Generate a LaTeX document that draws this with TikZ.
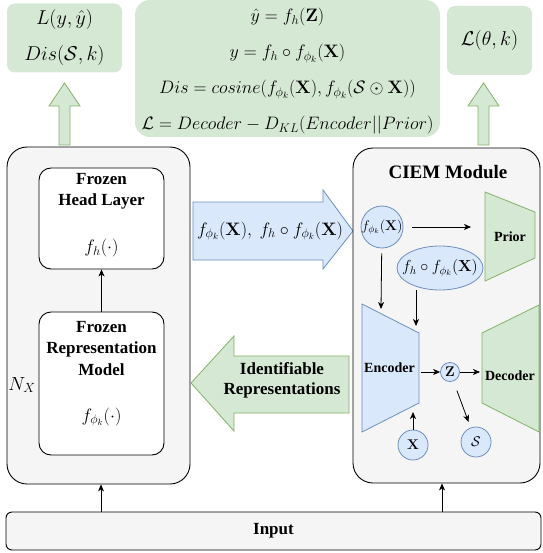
\RequirePackage{fix-cm}
\documentclass[tikz,border=0pt]{standalone}
\usepackage[no-math]{fontspec}
\setmainfont{Liberation Serif}
\usepackage{amsmath}
\usetikzlibrary{arrows.meta,positioning,shapes.geometric}
\definecolor{gfill}{HTML}{D5E8D4}
\definecolor{gline}{HTML}{82B366}
\definecolor{bfill}{HTML}{DAE8FC}
\definecolor{bline}{HTML}{6C8EBF}
\definecolor{pfill}{HTML}{F5F5F5}

\begin{document}
\begin{tikzpicture}[
        x=1pt, y=-1pt,
        >={Stealth[length=7pt, width=6pt, inset=2pt]},
        panel/.style={draw, line width=0.9pt, fill=pfill, rounded corners=20pt, inner sep=0pt},
        inbox/.style={draw, line width=0.9pt, fill=white, rounded corners=12pt, inner sep=0pt},
        loss/.style={fill=gfill, rounded corners=8pt, align=center, inner sep=0pt, font=\fontsize{20}{24}\selectfont},
        garrow/.style={draw=gline, fill=gfill, line width=0.8pt},
        barrow/.style={draw=bline, fill=bfill, line width=0.8pt},
        bshape/.style={draw=bline, fill=bfill, line width=0.8pt, inner sep=0pt},
        lbl/.style={font=\bfseries\fontsize{17}{21.5}\selectfont, align=center, inner sep=0pt},
        mlbl/.style={font=\fontsize{18}{22}\selectfont, align=center, inner sep=0pt},
        slbl/.style={font=\bfseries\fontsize{14}{17}\selectfont, inner sep=0pt},
        smath/.style={font=\fontsize{14}{17}\selectfont, inner sep=0pt},
        link/.style={->, line width=0.8pt}
    ]
    \useasboundingbox (0,0) rectangle (542,553);

    % losses on top
    \node[loss, minimum width=115, minimum height=69] (lossl) at (64.5,38)
        {$L(y,\hat{y})$\\[12pt]$Dis(\mathcal{S},k)$};
    \node[loss, rounded corners=15pt, minimum width=305, minimum height=137] (eqs) at (287.5,68.5) {};
    \node[mlbl] (eqtxt) at (287.5,71.5)
        {$\hat{y}=f_h(\mathbf{Z})$\\[14pt]
         $y=f_h\circ f_{\phi_k}(\mathbf{X})$\\[14pt]
         $Dis=cosine(f_{\phi_k}(\mathbf{X}),f_{\phi_k}(\mathcal{S}\odot\mathbf{X}))$\\[14pt]
         $\mathcal{L}=Decoder-D_{KL}(Encoder||Prior)$};
    \node[loss, minimum width=85, minimum height=69] (lossr) at (489.5,40.5) {$\mathcal{L}(\theta,k)$};

    % up arrows
    \draw[garrow] (59,145) -- (59,106) -- (49,106) -- (64.5,83) -- (80,106) -- (70,106) -- (70,145) -- cycle;
    \draw[garrow] (478,145) -- (478,106) -- (468,106) -- (483.5,83) -- (499,106) -- (489,106) -- (489,145) -- cycle;

    % frozen side
    \node[panel, minimum width=183, minimum height=337] (frozen) at (98.5,315.5) {};
    \node[inbox, minimum width=125, minimum height=101] (head) at (101.5,218.5) {};
    \node[lbl, below=5.5pt of head.north] (headtxt) {Frozen\\Head Layer};
    \node[mlbl, above=12pt of head.south] (fh) {$f_h(\cdot)$};
    \node[inbox, minimum width=125, minimum height=143] (rep) at (101.5,383.5) {};
    \node[lbl, below=9.5pt of rep.north] (reptxt) {Frozen\\Representation\\Model};
    \node[mlbl, above=29pt of rep.south] (fphi) {$f_{\phi_k}(\cdot)$};
    \node[font=\fontsize{19}{22}\selectfont, inner sep=0pt] (nx) at (22,385) {$N_X$};
    \draw[link] (rep) -- (head);

    % exchange arrows
    \draw[barrow] (193,202) -- (323,202) -- (323,190) -- (353,231) -- (323,269) -- (323,260) -- (193,260) -- cycle;
    \node[mlbl] (feat) at (270,231) {$f_{\phi_k}(\mathbf{X}),\ f_h\circ f_{\phi_k}(\mathbf{X})$};
    \draw[garrow] (191,383) -- (234,336) -- (234,356) -- (349,356) -- (349,413) -- (234,413) -- (234,431) -- cycle;
    \node[lbl, font=\bfseries\fontsize{17}{20}\selectfont] (ident) at (282,380) {Identifiable\\Representations};

    % CIEM module
    \node[panel, minimum width=187, minimum height=335] (ciem) at (446.5,315.5) {};
    \node[lbl, font=\bfseries\fontsize{19}{22}\selectfont] (ciemtxt) at (448,172.5) {CIEM Module};

    \node[bshape, circle, minimum size=42] (fx) at (382,227) {};
    \node[smath] at (fx) {$f_{\phi_k}(\mathbf{X})$};
    \node[bshape, ellipse, minimum width=86, minimum height=44] (fhx) at (440,268) {};
    \node[mlbl, font=\fontsize{16}{19}\selectfont] at (fhx) {$f_h\circ f_{\phi_k}(\mathbf{X})$};

    \draw[garrow] (485,192) -- (535,212) -- (535,258) -- (485,281) -- cycle;
    \node[slbl] (prior) at (510,237) {Prior};
    \draw[barrow] (362,304) -- (419,333) -- (419,403) -- (362,432) -- cycle;
    \node[slbl] (enc) at (389.5,368) {Encoder};
    \draw[garrow] (482,333) -- (539,305) -- (539,432) -- (482,403) -- cycle;
    \node[slbl] (dec) at (510,375.5) {Decoder};

    \node[bshape, circle, minimum size=19] (z) at (450,372) {};
    \node[smath] at (z) {$\mathbf{Z}$};
    \node[bshape, circle, minimum size=30] (xin) at (413,445) {};
    \node[smath] at (xin) {$\mathbf{X}$};
    \node[bshape, circle, minimum size=30] (s) at (476,442) {};
    \node[smath] at (s) {$\mathcal{S}$};

    \coordinate (priorin) at (471,227);
    \coordinate (enctopa) at (381,309);
    \coordinate (enctopb) at (416,326);
    \coordinate (encout) at (421,372);
    \coordinate (decin) at (480,372);
    \coordinate (encbot) at (413,412);

    \draw[link, shorten <=9pt] (fx) -- (priorin);
    \draw[link, shorten <=5pt] (fx) -- (enctopa);
    \draw[link] (fhx.south -| enctopb) -- (enctopb);
    \draw[link] (encout) -- (z);
    \draw[link] (z) -- (decin);
    \draw[link] (xin) -- (encbot);
    \draw[link, shorten <=10pt, shorten >=6pt] (z) -- (s);

    % input
    \node[panel, rounded corners=6pt, minimum width=535, minimum height=38, font=\bfseries\fontsize{17}{20}\selectfont] (input) at (273.5,531) {Input};
    \draw[link] ([xshift=2.5pt]input.north -| frozen) -- ([xshift=2.5pt]frozen.south);
    \draw[link] ([xshift=-4.5pt]input.north -| ciem) -- ([xshift=-4.5pt]ciem.south);
\end{tikzpicture}
\end{document}
